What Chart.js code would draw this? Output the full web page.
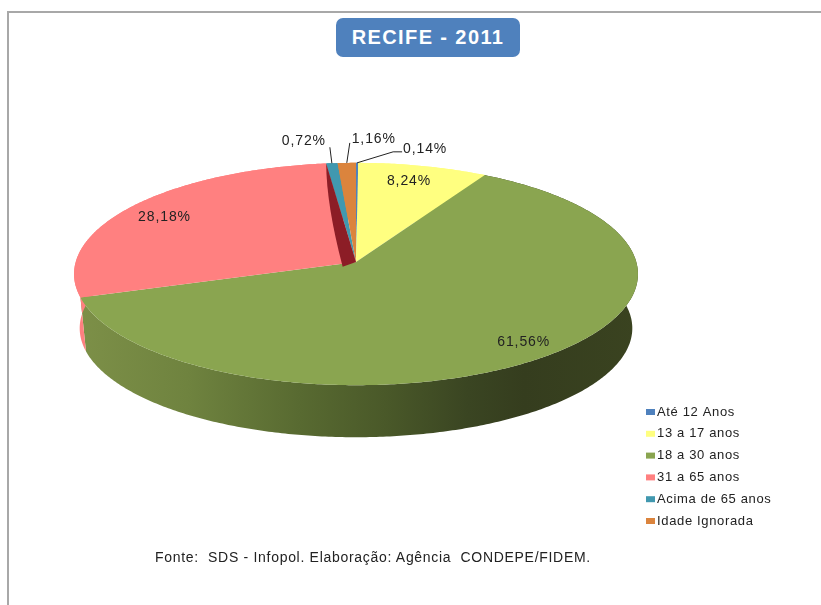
<!DOCTYPE html>
<html>
<head>
<meta charset="utf-8">
<script src="https://cdn.jsdelivr.net/npm/chart.js@4"></script>
<style>
  html, body { margin: 0; padding: 0; background: #fff; }
  #wrap { position: relative; width: 821px; height: 605px; overflow: hidden; font-family: "Liberation Sans", Arial, sans-serif; }
  #frame { position: absolute; left: 7px; top: 11px; width: 830px; height: 620px; border-top: 2px solid #a8a8a8; border-left: 2px solid #a8a8a8; }
  #badge { position: absolute; left: 336px; top: 18px; width: 184px; height: 39px; line-height: 39px; text-align: center; background: #4f81bd; border-radius: 7px; color: #fff; font-weight: bold; font-size: 20px; letter-spacing: 1.4px; }
  #source { position: absolute; left: 155px; top: 549px; font-size: 14px; letter-spacing: 0.7px; color: #222; white-space: pre; }
  canvas { position: absolute; left: 0; top: 0; }
</style>
</head>
<body>
<div id="wrap">
  <div id="frame"></div>
  <canvas id="pie" width="821" height="605"></canvas>
  <div id="badge">RECIFE - 2011</div>
  <div id="source">Fonte:  SDS - Infopol. Elaboração: Agência  CONDEPE/FIDEM.</div>
</div>
<script>
const categories = ['Até 12 Anos', '13 a 17 anos', '18 a 30 anos', '31 a 65 anos', 'Acima de 65 anos', 'Idade Ignorada'];
const shares = [0.14, 8.24, 61.56, 28.18, 0.72, 1.16];
const shareLabels = ['0,14%', '8,24%', '61,56%', '28,18%', '0,72%', '1,16%'];
const colors = ['#4f81bd', '#ffff80', '#8aa550', '#ff8080', '#4198af', '#db843d'];

// perspective of the tilted disc
const tilt = 0.108;
const squashY = 0.392;
const wallDrop = 54.5;
const wallShrink = 0.98;

// label placement: fraction of radius for the big slices, offset from rim for the small ones
const insideAt = [null, { f: 0.82, dx: -3, dy: -1 }, { f: 0.88, dx: 0, dy: -1 }, { f: 0.85, dx: 0, dy: 3 }, null, null];
const outsideAt = [{ dx: 68, dy: -14, elbow: [36, -11] }, null, null, null, { dx: -28, dy: -22, leader: [-2, -16] }, { dx: 27, dy: -24, leader: [3, -20] }];

const greenWall = [[0, '#7d9048'], [0.2, '#6f833f'], [0.4, '#586a31'], [0.55, '#4a5929'], [0.7, '#3a4522'], [0.8, '#353d1e'], [1, '#3a4320']];

function project(arc, angle, frac, lower) {
    const u = Math.cos(angle) * frac, v = -Math.sin(angle) * frac;
    const w = 1 + tilt * v;
    const s = lower ? wallShrink : 1;
    return {
        x: arc.x + arc.outerRadius * u / w * s,
        y: arc.y - arc.outerRadius * squashY * v / w * s + (lower ? wallDrop : 0)
    };
}

function traceRim(ctx, arc, lower, reverse) {
    const steps = Math.max(2, Math.ceil((arc.endAngle - arc.startAngle) * 90));
    for (let i = 0; i <= steps; i++) {
        const t = reverse ? 1 - i / steps : i / steps;
        const p = project(arc, arc.startAngle + (arc.endAngle - arc.startAngle) * t, 1, lower);
        ctx.lineTo(p.x, p.y);
    }
}

const disc3d = {
    id: 'disc3d',
    beforeDatasetsDraw(chart) {
        const ctx = chart.ctx;
        const arcs = chart.getDatasetMeta(0).data;

        // side walls
        arcs.forEach((arc, i) => {
            ctx.beginPath();
            traceRim(ctx, arc, false, false);
            traceRim(ctx, arc, true, true);
            ctx.closePath();
            if (i === 2) {
                const g = ctx.createLinearGradient(arc.x - arc.outerRadius, 0, arc.x + arc.outerRadius, 0);
                greenWall.forEach(s => g.addColorStop(s[0], s[1]));
                ctx.fillStyle = g;
            } else {
                ctx.fillStyle = colors[i];
            }
            ctx.fill();
        });

        // top faces
        arcs.forEach((arc, i) => {
            const c = project(arc, 0, 0, false);
            ctx.beginPath();
            ctx.moveTo(c.x, c.y);
            traceRim(ctx, arc, false, false);
            ctx.closePath();
            ctx.fillStyle = colors[i];
            ctx.fill();
        });

        // cut face of the 31 a 65 slice, seen where it pulls away from the centre
        const red = arcs[3];
        const c = project(red, 0, 0, false);
        const rim = project(red, red.endAngle, 1, false);
        const foot = project(red, red.startAngle, 0.05, false);
        const mid = project(red, red.endAngle - 0.03, 0.55, false);
        ctx.beginPath();
        ctx.moveTo(rim.x, rim.y);
        ctx.lineTo(c.x, c.y);
        ctx.lineTo(foot.x, foot.y + 3);
        ctx.quadraticCurveTo(mid.x - 8, mid.y, rim.x, rim.y);
        ctx.closePath();
        ctx.fillStyle = '#8c1d26';
        ctx.fill();

        // value labels and leader lines
        ctx.letterSpacing = '0.9px';
        ctx.font = '14px "Liberation Sans", Arial, sans-serif';
        ctx.textAlign = 'center';
        ctx.textBaseline = 'middle';
        ctx.strokeStyle = '#222';
        ctx.lineWidth = 1;
        arcs.forEach((arc, i) => {
            const mid = (arc.startAngle + arc.endAngle) / 2;
            let x, y;
            if (insideAt[i] !== null) {
                const place = insideAt[i];
                const p = project(arc, mid, place.f, false);
                x = p.x + place.dx; y = p.y + place.dy;
            } else {
                const p = project(arc, mid, 1, false);
                const o = outsideAt[i];
                x = p.x + o.dx; y = p.y + o.dy;
                ctx.beginPath();
                ctx.moveTo(p.x, p.y);
                if (o.elbow) {
                    ctx.lineTo(p.x + o.elbow[0], p.y + o.elbow[1]);
                    ctx.lineTo(p.x + o.elbow[0] + 9, p.y + o.elbow[1]);
                } else {
                    ctx.lineTo(p.x + o.leader[0], p.y + o.leader[1]);
                }
                ctx.stroke();
            }
            ctx.fillStyle = '#222';
            ctx.fillText(shareLabels[i], x, y);
        });

        // legend, the swatch sits tight against its text
        ctx.letterSpacing = '0.65px';
        ctx.font = '13px "Liberation Sans", Arial, sans-serif';
        ctx.textAlign = 'left';
        categories.forEach((name, i) => {
            const y = 412 + 21.8 * i;
            ctx.fillStyle = colors[i];
            ctx.fillRect(646, y - 3, 9, 6);
            ctx.fillStyle = '#222';
            ctx.fillText(name, 657, y);
        });
        ctx.letterSpacing = '0px';
        return false;
    }
};

new Chart(document.getElementById('pie'), {
    type: 'pie',
    data: {
        labels: categories,
        datasets: [{ data: shares, backgroundColor: colors, borderWidth: 0 }]
    },
    options: {
        responsive: false,
        animation: false,
        radius: 280.3,
        layout: { padding: { right: 109, bottom: 81 } },
        plugins: {
            legend: { display: false },
            tooltip: { enabled: false }
        }
    },
    plugins: [disc3d]
});
</script>
</body>
</html>
